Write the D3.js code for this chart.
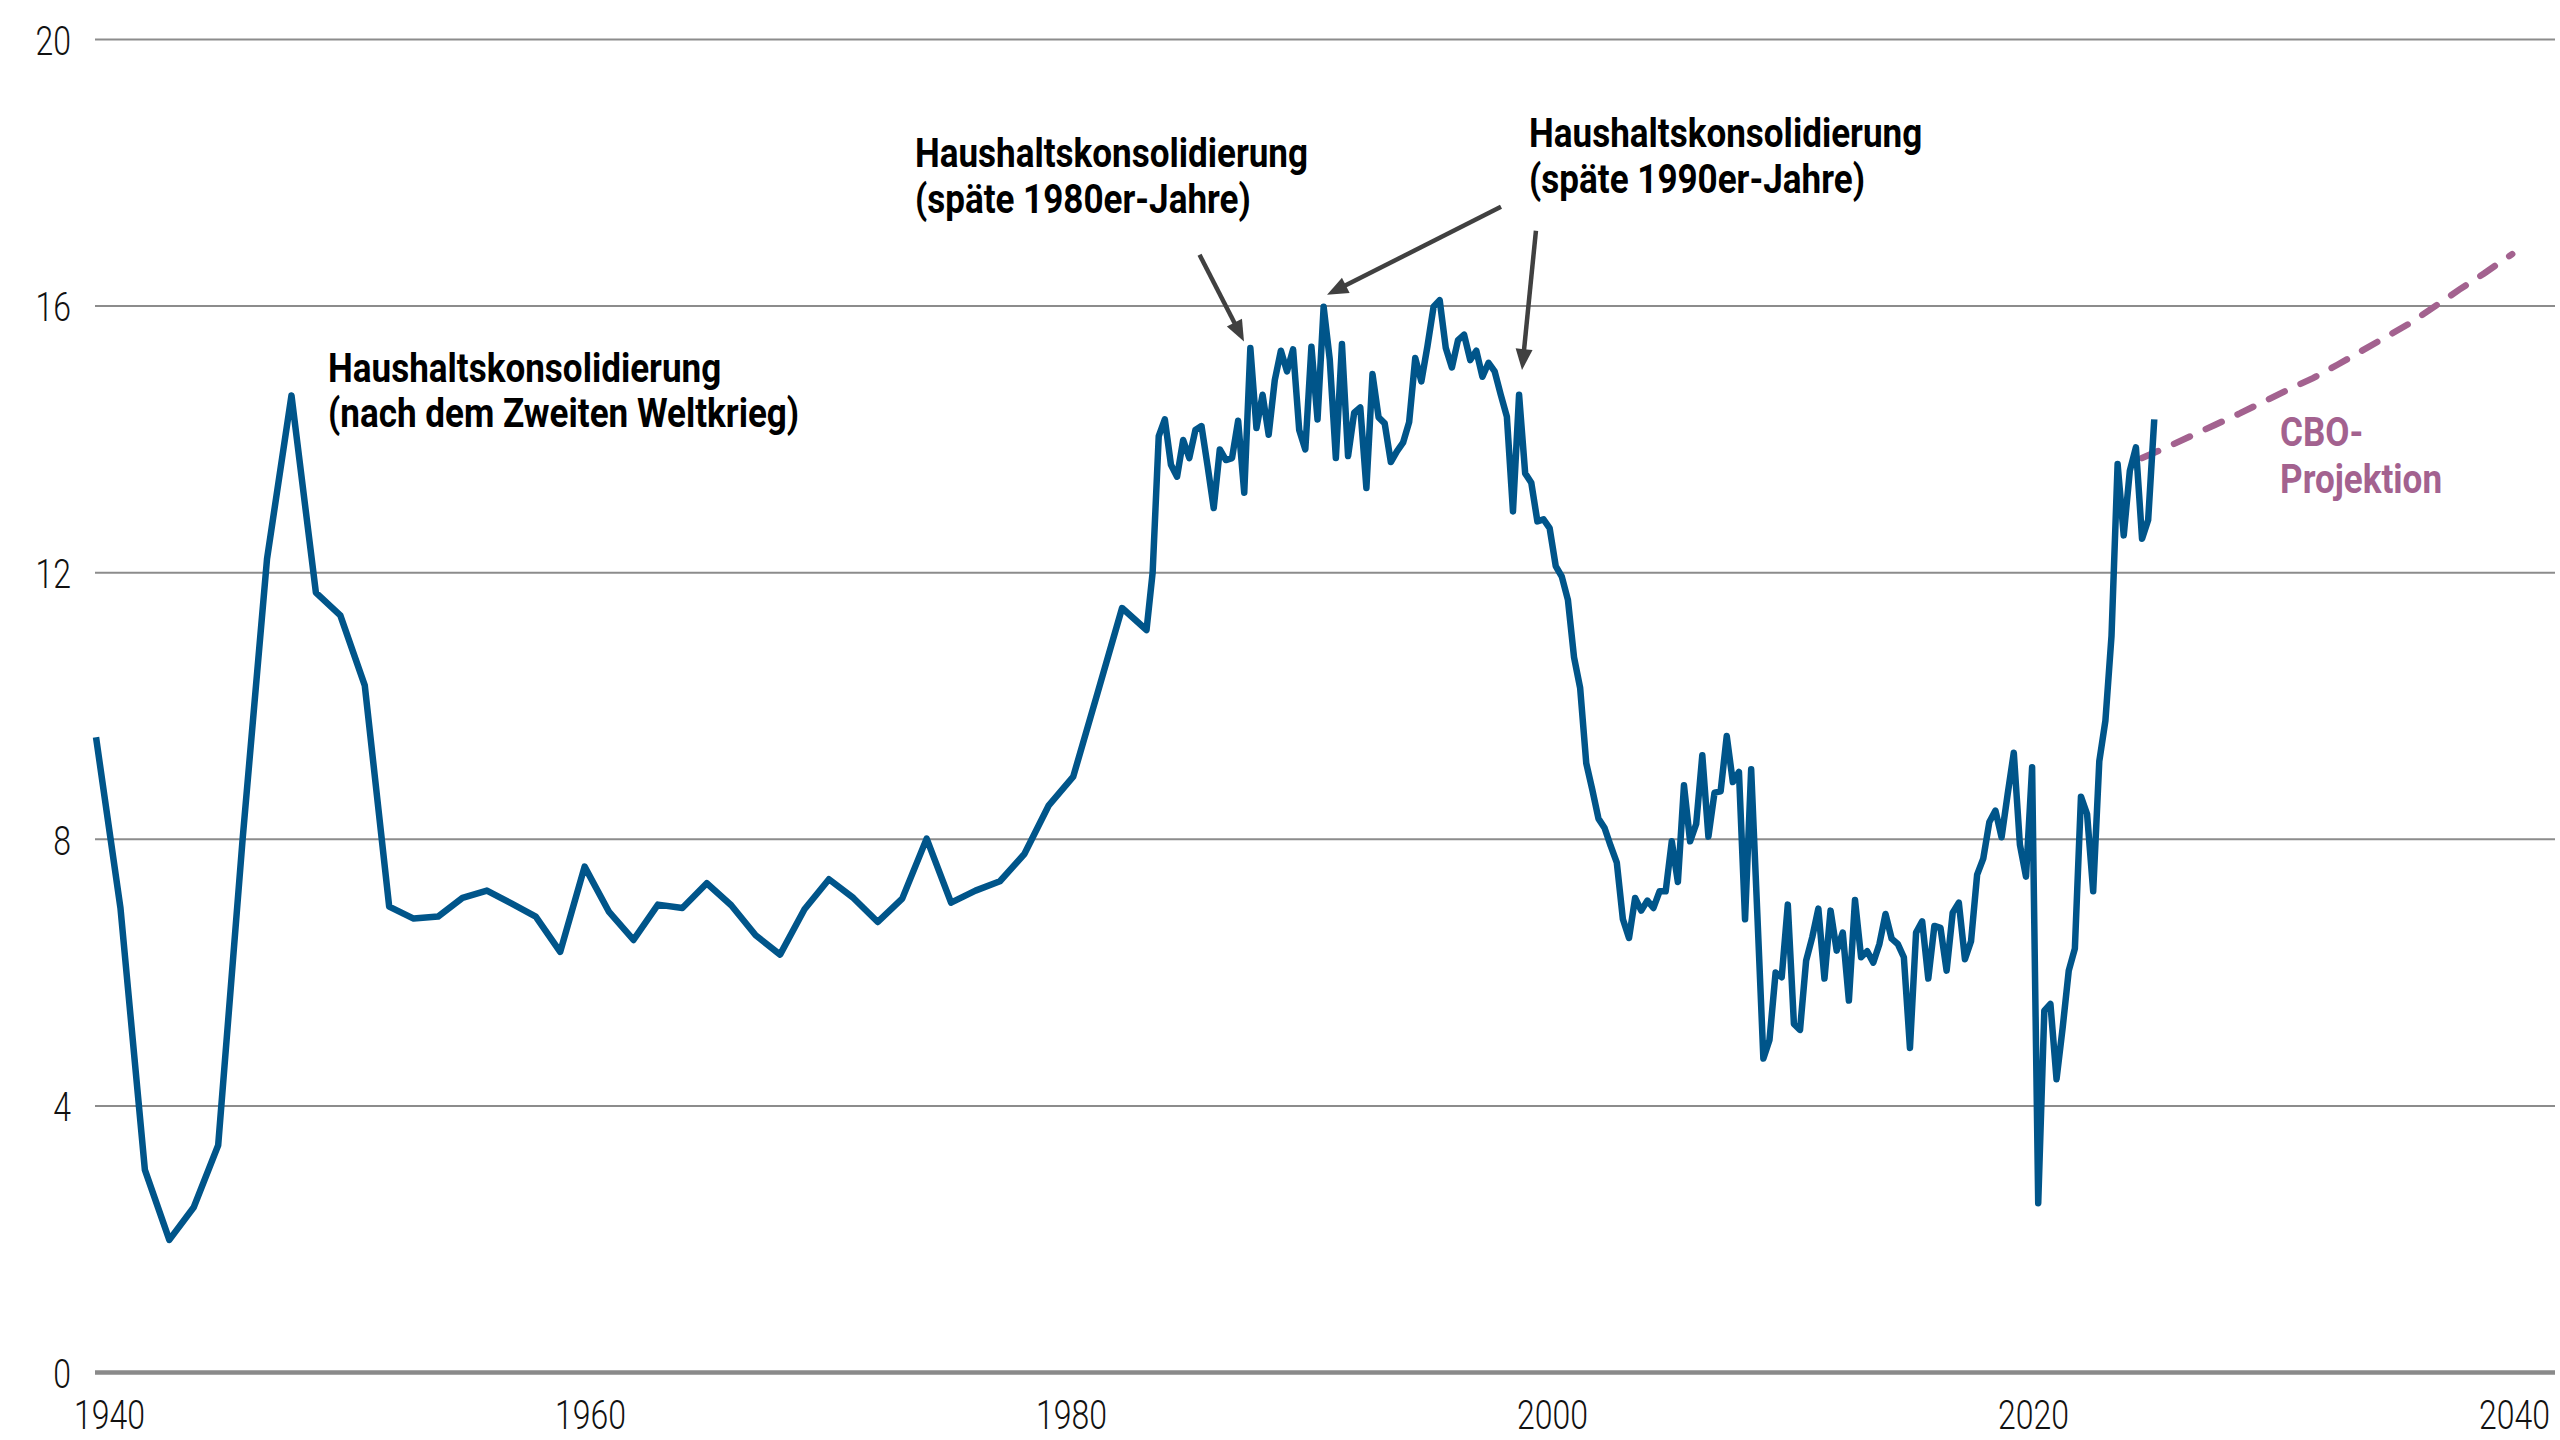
<!DOCTYPE html>
<html><head><meta charset="utf-8">
<script src="https://cdn.jsdelivr.net/npm/d3@7/dist/d3.min.js"></script>
<style>
html,body{margin:0;padding:0;background:#fff;}
svg{display:block;background:#fff;}
</style></head><body>
<svg id="chart" width="2560" height="1440"></svg>
<script>
// ---------------- DATA ----------------
// Annual observations (dated at year end), 1940-1982
const annualYears = d3.range(1940, 1983);
const annualValues = [9.53, 6.97, 3.04, 1.99, 2.48, 3.41, 8.0, 12.21, 14.66, 11.70,
  11.36, 10.31, 6.99, 6.81, 6.84, 7.12, 7.23, 7.04, 6.84, 6.31,
  7.59, 6.91, 6.49, 7.02, 6.97, 7.34, 7.01, 6.56, 6.27, 6.95,
  7.40, 7.12, 6.76, 7.11, 8.01, 7.05, 7.23, 7.37, 7.78, 8.51,
  8.94, 10.2, 11.47];

// Quarterly observations (dated at quarter end), from 1983 Q4 to 2025 Q1
const quarterlyStart = {year: 1983, quarter: 4};
const quarterlyValues = [
  11.14, 12.0, 14.05, 14.30, 13.62, 13.44, 13.99, 13.72, 14.14, 14.20,
  13.6, 12.97, 13.85, 13.69, 13.72, 14.28, 13.20, 15.37, 14.17, 14.67,
  14.07, 14.89, 15.33, 15.02, 15.35, 14.14, 13.85, 15.39, 14.30, 15.99,
  15.2, 13.72, 15.43, 13.75, 14.40, 14.48, 13.27, 14.98, 14.33, 14.24,
  13.66, 13.82, 13.95, 14.26, 15.22, 14.87, 15.4, 15.99, 16.09, 15.37,
  15.08, 15.49, 15.57, 15.19, 15.33, 14.94, 15.15, 15.02, 14.67, 14.34,
  12.92, 14.67, 13.49, 13.35, 12.77, 12.80, 12.67, 12.1, 11.94, 11.59,
  10.73, 10.27, 9.14, 8.74, 8.31, 8.17, 7.9, 7.65, 6.8, 6.52,
  7.12, 6.93, 7.08, 6.97, 7.22, 7.22, 7.97, 7.36, 8.81, 7.97,
  8.23, 9.26, 8.04, 8.70, 8.72, 9.55, 8.86, 9.01, 6.80, 9.05,
  6.9, 4.71, 4.99, 6.00, 5.93, 7.02, 5.23, 5.14, 6.18, 6.53,
  6.96, 5.91, 6.93, 6.33, 6.60, 5.58, 7.09, 6.23, 6.32, 6.15,
  6.43, 6.88, 6.51, 6.43, 6.23, 4.87, 6.60, 6.77, 5.91, 6.70,
  6.67, 6.03, 6.90, 7.05, 6.20, 6.47, 7.47, 7.71, 8.26, 8.43,
  8.03, 8.68, 9.30, 7.92, 7.44, 9.08, 2.54, 5.43, 5.53, 4.40,
  5.17, 6.03, 6.36, 8.64, 8.38, 7.22, 9.17, 9.78, 11.05, 13.63,
  12.56, 13.53, 13.88, 12.51, 12.79, 14.30];

// CBO projection, fiscal years (dated at fiscal year end, 30 Sep)
const projYears = d3.range(2024, 2040);
const projValues = [13.72, 13.88, 14.05, 14.22, 14.39, 14.57, 14.75, 14.92,
  15.12, 15.33, 15.54, 15.75, 16.00, 16.25, 16.49, 16.78];

// Axis ticks
const yTicks = [0, 4, 8, 12, 16, 20];
const xTickYears = [1940, 1960, 1980, 2000, 2020, 2040];

// Annotation texts
const noteWW2 = ["Haushaltskonsolidierung", "(nach dem Zweiten Weltkrieg)"];
const note80s = ["Haushaltskonsolidierung", "(späte 1980er-Jahre)"];
const note90s = ["Haushaltskonsolidierung", "(späte 1990er-Jahre)"];
const noteCBO = ["CBO-", "Projektion"];

// ---------------- BUILD SERIES ----------------
const hist = [];
annualYears.forEach((yr, i) => hist.push({t: yr + 1, v: annualValues[i]}));
const q0 = quarterlyStart.year + quarterlyStart.quarter / 4;
quarterlyValues.forEach((v, i) => hist.push({t: q0 + i / 4, v: v}));
const proj = projYears.map((yr, i) => ({t: yr + 0.75, v: projValues[i]}));
proj[proj.length - 1].t += 0.15;

// ---------------- SCALES ----------------
const W = 2560, H = 1440;
const gridLeft = 95, gridRight = 2555;
const x = d3.scaleLinear().domain([1940, 2040]).range([71.6, 2514.6]);   // data time scale
const xTick = d3.scaleLinear().domain([1940, 2040]).range([109, 2514]); // label placement
const y = d3.scaleLinear().domain([0, 20]).range([1372.5, 39.5]);

const svg = d3.select('#chart');
svg.append('rect').attr('width', W).attr('height', H).attr('fill', '#fff');

// gridlines
svg.append('g').selectAll('line').data(yTicks.filter(d => d !== 0)).join('line')
  .attr('x1', gridLeft).attr('x2', gridRight)
  .attr('y1', d => y(d)).attr('y2', d => y(d))
  .attr('stroke', '#8c8c8c').attr('stroke-width', 2);
// zero axis line
svg.append('line').attr('x1', gridLeft).attr('x2', gridRight)
  .attr('y1', y(0)).attr('y2', y(0))
  .attr('stroke', '#8a8a8a').attr('stroke-width', 4.5);

const tickFont = 'Roboto, "Liberation Sans", sans-serif';
const condTick = 0.78;

// y axis labels
const yAxis = svg.append('g').attr('transform', 'translate(71,0)')
  .call(d3.axisLeft(y).tickValues(yTicks).tickSize(0).tickPadding(0).tickFormat(d3.format('d')));
yAxis.select('.domain').remove();
yAxis.selectAll('text')
  .attr('x', 0).attr('dy', '0.36em')
  .attr('transform', `scale(${condTick},1)`)
  .style('font-family', tickFont).style('font-weight', 300)
  .style('font-size', '41px').attr('fill', '#111');

// x axis labels
const xAxis = svg.append('g').attr('transform', 'translate(0,1429)')
  .call(d3.axisBottom(xTick).tickValues(xTickYears).tickSize(0).tickPadding(0).tickFormat(d3.format('d')));
xAxis.select('.domain').remove();
xAxis.selectAll('text')
  .attr('y', 0).attr('dy', 0)
  .attr('transform', `scale(${condTick * 41 / 40},1)`)
  .style('font-family', tickFont).style('font-weight', 300)
  .style('font-size', '40px').attr('fill', '#111');

// projection (dashed)
svg.append('path').datum(proj)
  .attr('d', d3.line().x(d => x(d.t)).y(d => y(d.v)))
  .attr('fill', 'none').attr('stroke', '#a3628f').attr('stroke-width', 6.5)
  .attr('stroke-linecap', 'round').attr('stroke-dasharray', '17.5 17.5');

// historical line
svg.append('path').datum(hist)
  .attr('d', d3.line().x(d => x(d.t)).y(d => y(d.v)))
  .attr('fill', 'none').attr('stroke', '#00558a').attr('stroke-width', 6.5)
  .attr('stroke-linejoin', 'round').attr('stroke-linecap', 'butt');

// ---------------- ANNOTATIONS ----------------
const noteFont = 'Roboto, "Liberation Sans", sans-serif';
const condNote = 0.855;
function note(lines, t, v, color, lineGap) {
  const g = svg.append('g');
  lines.forEach((s, i) => {
    g.append('text')
      .attr('transform', `translate(${x(t)},${y(v) + i * lineGap}) scale(${condNote},1)`)
      .attr('x', 0).attr('y', 0)
      .style('font-family', noteFont).style('font-weight', 700)
      .style('font-size', '41px').attr('fill', color)
      .text(s);
  });
}
note(noteWW2, 1950.50, 14.86, '#000', 45);
note(note80s, 1974.52, 18.09, '#000', 46);
note(note90s, 1999.66, 18.39, '#000', 46);
note(noteCBO, 2030.40, 13.90, '#a3628f', 46.5);

function arrow(t0, v0, t1, v1) {
  const x0 = x(t0), y0 = y(v0), x1 = x(t1), y1 = y(v1);
  const dx = x1 - x0, dy = y1 - y0, len = Math.hypot(dx, dy);
  const ux = dx / len, uy = dy / len;
  const L = 21, Wd = 8.5;
  const bx = x1 - ux * L, by = y1 - uy * L;
  svg.append('line').attr('x1', x0).attr('y1', y0)
    .attr('x2', x1 - ux * (L - 4)).attr('y2', y1 - uy * (L - 4))
    .attr('stroke', '#404040').attr('stroke-width', 4.5);
  svg.append('path')
    .attr('d', `M${x1},${y1}L${bx - uy * Wd},${by + ux * Wd}L${bx + uy * Wd},${by - ux * Wd}Z`)
    .attr('fill', '#404040');
}
arrow(1986.17, 16.77, 1987.99, 15.47);
arrow(1998.51, 17.49, 1991.39, 16.17);
arrow(1999.94, 17.13, 1999.37, 15.04);
</script>
</body></html>
